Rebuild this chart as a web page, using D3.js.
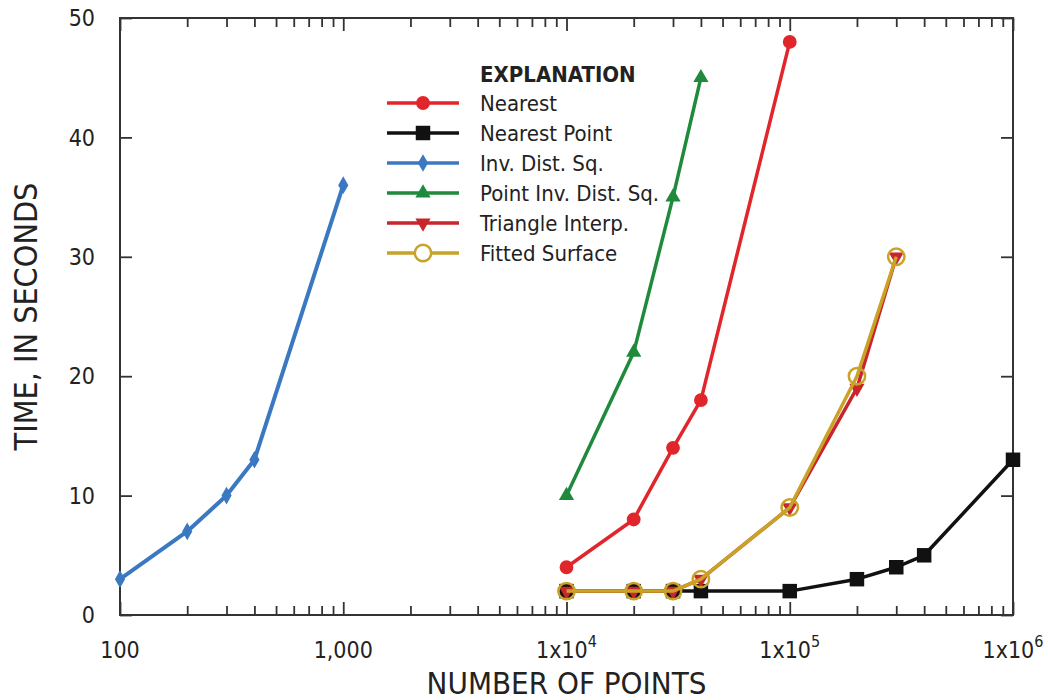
<!DOCTYPE html>
<html>
<head>
<meta charset="utf-8">
<script src="https://cdn.jsdelivr.net/npm/d3@7"></script>
<style>
  body { margin: 0; background: #fff; }
  text { font-family: "Liberation Sans Narrow", "DejaVu Sans Condensed", sans-serif; fill: #222; }
</style>
</head>
<body>
<div id="chart"></div>
<script>
var seriesNames = ["Nearest", "Nearest Point", "Inv. Dist. Sq.", "Point Inv. Dist. Sq.", "Triangle Interp.", "Fitted Surface"];

var nearestPts   = [1e4, 2e4, 3e4, 4e4, 1e5];
var nearestTime  = [4, 8, 14, 18, 48];

var nearestPointPts  = [1e4, 2e4, 3e4, 4e4, 1e5, 2e5, 3e5, 4e5, 1e6];
var nearestPointTime = [2, 2, 2, 2, 2, 3, 4, 5, 13];

var invDistPts  = [100, 200, 300, 400, 1000];
var invDistTime = [3, 7, 10, 13, 36];

var pointInvPts  = [1e4, 2e4, 3e4, 4e4];
var pointInvTime = [10, 22, 35, 45];

var trianglePts  = [1e4, 2e4, 3e4, 4e4, 1e5, 2e5, 3e5];
var triangleTime = [2, 2, 2, 3, 9, 19, 30];

var fittedPts  = [1e4, 2e4, 3e4, 4e4, 1e5, 2e5, 3e5];
var fittedTime = [2, 2, 2, 3, 9, 20, 30];

var yTicks = [0, 10, 20, 30, 40, 50];
var xMajor = [100, 1000, 1e4, 1e5, 1e6];

var width = 1048, height = 700;
var margin = { left: 120, right: 35, top: 18, bottom: 85 };

var x = d3.scaleLog().domain([100, 1e6]).range([margin.left, width - margin.right]);
var y = d3.scaleLinear().domain([0, 50]).range([height - margin.bottom, margin.top]);

var svg = d3.select("#chart").append("svg")
  .attr("width", width)
  .attr("height", height);

var axisColor = "#333";

// minor ticks 2..9 in each decade
var xMinor = [];
[100, 1000, 1e4, 1e5].forEach(function(d) {
  for (var k = 2; k <= 9; k++) xMinor.push(d * k);
});

function styleAxis(g) {
  g.select(".domain").remove();
  g.selectAll(".tick line").attr("stroke", axisColor).attr("stroke-width", 1.8);
}

var x0 = x.range()[0], x1 = x.range()[1], y0 = y.range()[0], y1 = y.range()[1];

svg.append("g").attr("transform", "translate(0," + y0 + ")")
  .call(d3.axisBottom(x).tickValues(xMinor).tickSize(-9).tickFormat(""))
  .call(styleAxis);
svg.append("g").attr("transform", "translate(0," + y0 + ")")
  .call(d3.axisBottom(x).tickValues(xMajor).tickSize(-13).tickFormat(""))
  .call(styleAxis);
svg.append("g").attr("transform", "translate(0," + y1 + ")")
  .call(d3.axisTop(x).tickValues(xMinor).tickSize(-9).tickFormat(""))
  .call(styleAxis);
svg.append("g").attr("transform", "translate(0," + y1 + ")")
  .call(d3.axisTop(x).tickValues(xMajor).tickSize(-13).tickFormat(""))
  .call(styleAxis);
svg.append("g").attr("transform", "translate(" + x0 + ",0)")
  .call(d3.axisLeft(y).tickValues(yTicks).tickSize(-12).tickFormat(""))
  .call(styleAxis);
svg.append("g").attr("transform", "translate(" + x1 + ",0)")
  .call(d3.axisRight(y).tickValues(yTicks).tickSize(-12).tickFormat(""))
  .call(styleAxis);

svg.append("rect")
  .attr("x", x0).attr("y", y1)
  .attr("width", x1 - x0).attr("height", y0 - y1)
  .attr("fill", "none").attr("stroke", axisColor).attr("stroke-width", 2);

// y labels
svg.selectAll(".ylab").data(yTicks).enter().append("text")
  .attr("x", x0 - 25)
  .attr("y", function(d) { return y(d); })
  .attr("dy", "0.36em")
  .attr("text-anchor", "end")
  .attr("font-size", 23)
  .text(function(d) { return d; });

// x labels
var xl = svg.selectAll(".xlab").data(xMajor).enter().append("text")
  .attr("x", function(d) { return x(d); })
  .attr("y", y0 + 43)
  .attr("text-anchor", "middle")
  .attr("font-size", 23);
xl.each(function(d) {
  var t = d3.select(this);
  if (d <= 1000) {
    t.text(d3.format(",")(d));
  } else {
    t.append("tspan").text("1x10");
    t.append("tspan").attr("dy", -11).attr("font-size", 16).text(Math.round(Math.log10(d)));
  }
});

svg.append("text")
  .attr("x", (x0 + x1) / 2)
  .attr("y", height - 6)
  .attr("text-anchor", "middle")
  .attr("font-size", 31)
  .text("NUMBER OF POINTS");

svg.append("text")
  .attr("transform", "translate(37," + ((y0 + y1) / 2) + ") rotate(-90)")
  .attr("text-anchor", "middle")
  .attr("font-size", 32)
  .text("TIME, IN SECONDS");

var series = [
  { name: seriesNames[2], pts: invDistPts, time: invDistTime, color: "#3b78c2", symbol: d3.symbolDiamond, size: 90, rotate: 0, fill: true, lw: 4 },
  { name: seriesNames[3], pts: pointInvPts, time: pointInvTime, color: "#1f8a3b", symbol: d3.symbolTriangle, size: 100, rotate: 0, fill: true, lw: 3.5 },
  { name: seriesNames[0], pts: nearestPts, time: nearestTime, color: "#e1262b", symbol: d3.symbolCircle, size: 150, rotate: 0, fill: true, lw: 3.5 },
  { name: seriesNames[1], pts: nearestPointPts, time: nearestPointTime, color: "#111", symbol: d3.symbolSquare, size: 210, rotate: 0, fill: true, lw: 3.5 },
  { name: seriesNames[4], pts: trianglePts, time: triangleTime, color: "#c8252c", symbol: d3.symbolTriangle, size: 100, rotate: 180, fill: true, lw: 3.5 },
  { name: seriesNames[5], pts: fittedPts, time: fittedTime, color: "#c9a228", symbol: d3.symbolCircle, size: 210, rotate: 0, fill: false, lw: 3.5 }
];

var line = d3.line()
  .x(function(d) { return x(d[0]); })
  .y(function(d) { return y(d[1]); });

series.forEach(function(s) {
  var data = s.pts.map(function(p, i) { return [p, s.time[i]]; });
  var g = svg.append("g");
  g.append("path")
    .datum(data)
    .attr("d", line)
    .attr("fill", "none")
    .attr("stroke", s.color)
    .attr("stroke-width", s.lw)
    .attr("stroke-linejoin", "round");
  g.selectAll("path.mark").data(data).enter().append("path")
    .attr("class", "mark")
    .attr("d", d3.symbol().type(s.symbol).size(s.size))
    .attr("transform", function(d) { return "translate(" + x(d[0]) + "," + y(d[1]) + ") rotate(" + s.rotate + ")"; })
    .attr("fill", s.fill ? s.color : "none")
    .attr("stroke", s.fill ? "none" : s.color)
    .attr("stroke-width", 2.5);
});

// legend
var legendSeries = seriesNames.map(function(n) {
  return series.filter(function(s) { return s.name === n; })[0];
});
var lx = 387, ly = 74;
svg.append("text")
  .attr("x", 480).attr("y", ly)
  .attr("dy", "0.36em")
  .attr("font-size", 22)
  .attr("font-weight", "bold")
  .text("EXPLANATION");

var items = svg.selectAll(".leg").data(legendSeries).enter().append("g")
  .attr("transform", function(d, i) { return "translate(0," + (ly + 29 + i * 30) + ")"; });
items.append("line")
  .attr("x1", lx).attr("x2", lx + 72)
  .attr("stroke", function(d) { return d.color; })
  .attr("stroke-width", 3.5);
items.append("path")
  .attr("d", function(d) { return d3.symbol().type(d.symbol).size(d.size)(); })
  .attr("transform", function(d) { return "translate(" + (lx + 36) + ",0) rotate(" + d.rotate + ")"; })
  .attr("fill", function(d) { return d.fill ? d.color : "#fff"; })
  .attr("stroke", function(d) { return d.fill ? "none" : d.color; })
  .attr("stroke-width", 2.5);
items.append("text")
  .attr("x", 480)
  .attr("dy", "0.36em")
  .attr("font-size", 22)
  .text(function(d) { return d.name; });
</script>
</body>
</html>
